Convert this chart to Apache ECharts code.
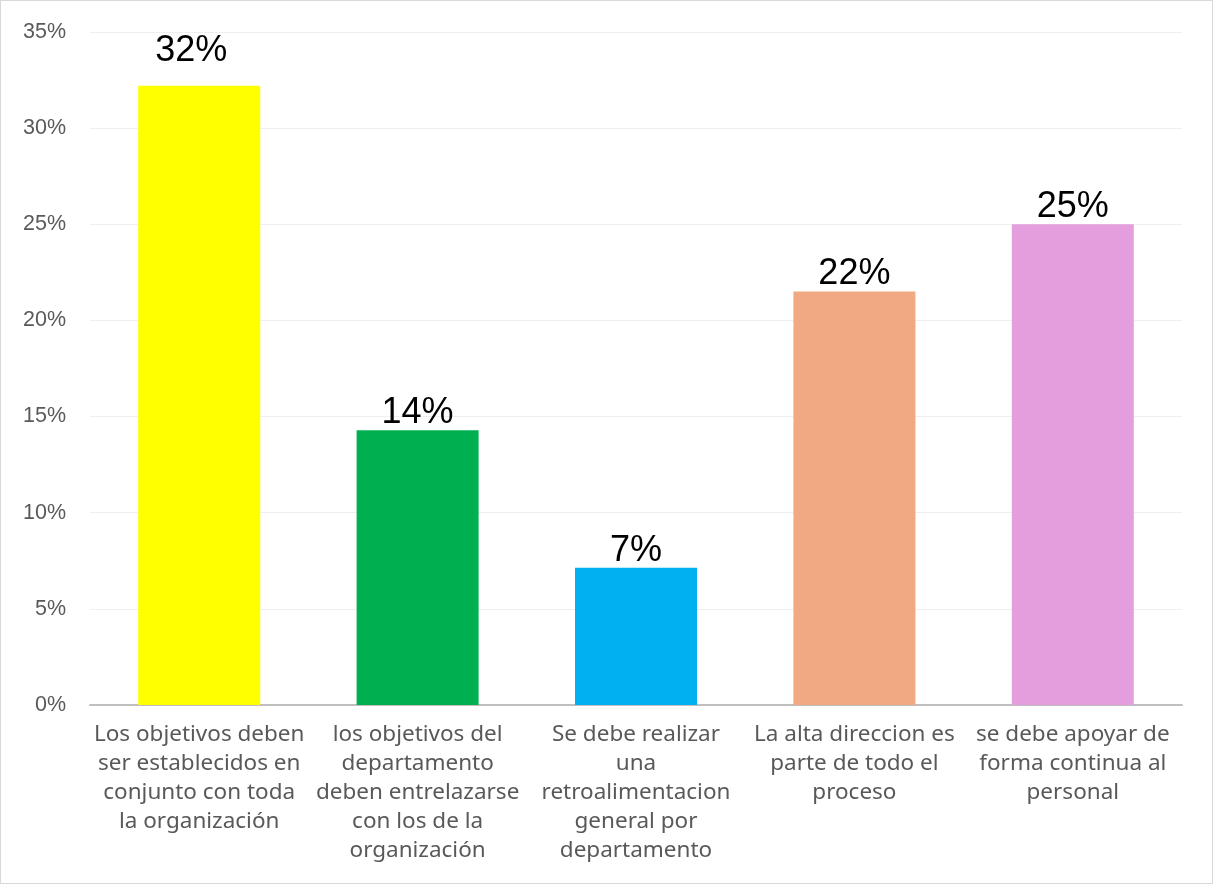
<!DOCTYPE html>
<html><head><meta charset="utf-8">
<script src="https://cdn.jsdelivr.net/npm/echarts@6/dist/echarts.min.js"></script>
<style>html,body{margin:0;padding:0;background:#fff;}#c{width:1213px;height:884px;box-sizing:border-box;border:1px solid #d9d9d9;}</style>
</head><body><div id="c"></div>
<script>
const categories = [
  "Los objetivos deben\nser establecidos en\nconjunto con toda\nla organización",
  "los objetivos del\ndepartamento\ndeben entrelazarse\ncon los de la\norganización",
  "Se debe realizar\nuna\nretroalimentacion\ngeneral por\ndepartamento",
  "La alta direccion es\nparte de todo el\nproceso",
  "se debe apoyar de\nforma continua al\npersonal"
];
const values = [0.322, 0.1429, 0.0714, 0.2151, 0.25];
const colors = ["#ffff00", "#00b050", "#00b0f0", "#f1a983", "#e49edd"];
const yTicks = [0, 0.05, 0.10, 0.15, 0.20, 0.25, 0.30, 0.35];

const chart = echarts.init(document.getElementById('c'));
chart.setOption({
  animation: false,
  grid: {left: 89, right: 30, top: 31, bottom: 178, containLabel: false},
  xAxis: {
    type: 'category', data: categories,
    axisTick: {show: false},
    axisLine: {lineStyle: {color: '#bfbfbf', width: 2}},
    axisLabel: {interval: 0, color: '#595959', fontFamily: 'Noto Sans', fontSize: 22.5, lineHeight: 29, margin: 15}
  },
  yAxis: {
    type: 'value', min: 0, max: 0.35, interval: 0.05,
    axisLine: {show: false}, axisTick: {show: false},
    splitLine: {lineStyle: {color: '#efefef', width: 1}},
    axisLabel: {color: '#595959', fontFamily: 'Liberation Sans', fontSize: 21.5, margin: 24,
      formatter: v => Math.round(v * 100) + '%'}
  },
  series: [{
    type: 'bar', barWidth: 122,
    data: values.map((v, i) => ({value: v, itemStyle: {color: colors[i]},
      label: i === 0 ? {offset: [-8, -18]} : {}})),
    label: {show: true, position: 'top', distance: -1, color: '#000', fontFamily: 'Liberation Sans', fontSize: 36,
      formatter: p => Math.round(p.value * 100) + '%'}
  }]
});
</script></body></html>
